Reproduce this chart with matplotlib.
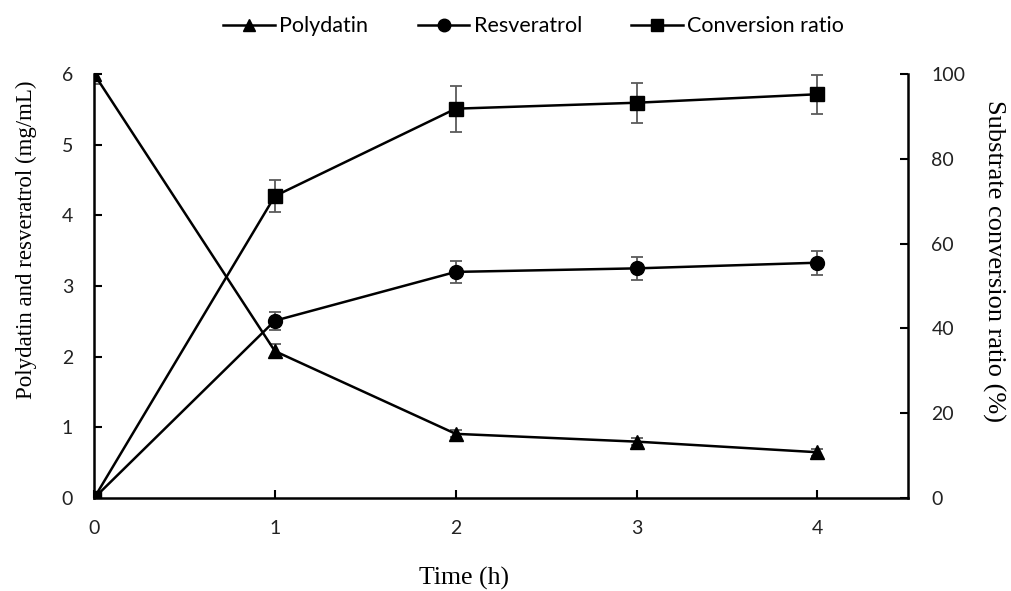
import matplotlib.pyplot as plt
from matplotlib.lines import Line2D
import numpy as np

### Data
time_h = [0, 1, 2, 3, 4]
polydatin = [6.0, 2.08, 0.91, 0.80, 0.65]
polydatin_err = [0.15, 0.10, 0.05, 0.05, 0.05]
resveratrol = [0.0, 2.51, 3.20, 3.25, 3.33]
resveratrol_err = [0.0, 0.13, 0.16, 0.16, 0.17]
conversion = [0.0, 71.2, 91.8, 93.2, 95.2]
conversion_err = [0.0, 3.7, 5.4, 4.7, 4.6]
series_names = ['Polydatin', 'Resveratrol', 'Conversion ratio']

tick_font = 'Lato'
label_font = 'Liberation Serif'
err_color = '#5a5a5a'

fig = plt.figure(figsize=(10.11, 5.91), dpi=100)
ax = fig.add_axes([0.093, 0.157, 0.805, 0.718])
ax2 = ax.twinx()

line_kw = dict(color='black', linewidth=1.8, markersize=10,
               ecolor=err_color, elinewidth=1.3, capsize=4.3, capthick=1.3)

### Concentration series (left axis)
ax.errorbar(time_h, polydatin, yerr=polydatin_err, marker='^', **line_kw)
ax.errorbar(time_h, resveratrol, yerr=resveratrol_err, marker='o', **line_kw)

### Conversion ratio (right axis)
ax2.errorbar(time_h, conversion, yerr=conversion_err, marker='s', **line_kw)

### Axes styling
ax.set_xlim(0, 4.5)
ax.set_ylim(0, 6)
ax2.set_ylim(0, 100)
ax.set_xticks([0, 1, 2, 3, 4])
ax.set_yticks(np.arange(0, 7, 1))
ax2.set_yticks(np.arange(0, 101, 20))

for a in (ax, ax2):
    a.spines['top'].set_visible(False)
    for s in a.spines.values():
        s.set_linewidth(1.8)
ax.spines['right'].set_visible(False)
ax2.spines['left'].set_visible(False)
ax2.spines['bottom'].set_visible(False)

ax.tick_params(axis='both', direction='in', length=6, width=1.5, labelsize=14, colors='black')
ax.tick_params(axis='y', pad=15)
ax.tick_params(axis='x', pad=16)
ax2.tick_params(axis='y', direction='in', length=6, width=1.5, labelsize=14, pad=17)
for lab in ax.get_xticklabels() + ax.get_yticklabels() + ax2.get_yticklabels():
    lab.set_fontfamily(tick_font)
    lab.set_color('#222222')

ax.set_xlabel('Time (h)', fontfamily=label_font, fontsize=18.5)
ax.xaxis.set_label_coords(0.455, -0.163)
ax.set_ylabel('Polydatin and resveratrol (mg/mL)', fontfamily=label_font, fontsize=16.5)
ax.yaxis.set_label_coords(-0.07, 0.61)
ax2.set_ylabel('Substrate conversion ratio (%)', fontfamily=label_font, fontsize=19, rotation=270)
ax2.yaxis.set_label_coords(1.12, 0.56)

### Legend along the top (plain line + marker handles)
handles = [Line2D([], [], color='black', linewidth=1.8, marker=m, markersize=9)
           for m in ['^', 'o', 's']]
fig.legend(handles, series_names,
           loc='upper center', bbox_to_anchor=(0.528, 1.005), ncol=3, frameon=False,
           prop={'family': tick_font, 'size': 15.5}, handlelength=2.4,
           columnspacing=2.3, handletextpad=0.2)

fig.savefig('out.png', dpi=100)
